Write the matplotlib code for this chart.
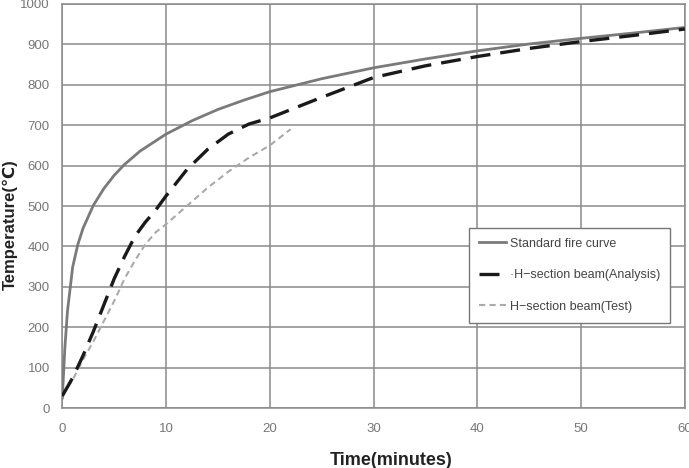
import matplotlib
matplotlib.use("Agg")
import matplotlib.pyplot as plt

plt.rcParams['font.family'] = ['Liberation Sans', 'DejaVu Sans']

std_t = [0, 0.25, 0.5, 1, 1.5, 2, 3, 4, 5, 6, 7.5, 10, 12.5, 15, 17.5, 20, 25, 30, 35, 40, 45, 50, 55, 60]
std_T = [25, 150, 240, 349, 405, 445, 502, 543, 576, 603, 636, 678, 711, 739, 762, 783, 815, 842, 864, 884, 901, 915, 928, 942]

ana_t = [0, 1, 2, 3, 4, 5, 6, 7, 8, 9, 10, 12, 14, 16, 18, 20, 25, 30, 35, 40, 45, 50, 55, 60]
ana_T = [30, 75, 130, 190, 255, 320, 375, 425, 460, 490, 525, 590, 640, 678, 703, 718, 769, 818, 847, 870, 890, 907, 922, 938]

test_t = [0, 1, 2, 3, 4, 5, 6, 7, 8, 9, 10, 12, 14, 16, 18, 20, 22]
test_T = [30, 70, 120, 165, 215, 265, 320, 365, 405, 435, 455, 500, 545, 585, 620, 650, 690]

x_ticks = [0, 10, 20, 30, 40, 50, 60]
y_ticks = [0, 100, 200, 300, 400, 500, 600, 700, 800, 900, 1000]

fig = plt.figure(figsize=(6.89, 4.68), dpi=100)
ax = fig.add_axes([0.0904, 0.128, 0.9036, 0.8635])

ax.plot(std_t, std_T, color='#7a7a7a', lw=2.0, label='Standard fire curve', zorder=3)
ax.plot(ana_t, ana_T, color='#1a1a1a', lw=2.4, dashes=(6, 3), label='\u00b7H\u2212section beam(Analysis)', zorder=4)
ax.plot(test_t, test_T, color='#aaaaaa', lw=1.5, dashes=(3, 2), label='H\u2212section beam(Test)', zorder=3)

ax.set_xlim(0, 60)
ax.set_ylim(0, 1000)
ax.set_xticks(x_ticks)
ax.set_yticks(y_ticks)
ax.grid(True, color='#8a8a8a', lw=1.1)
ax.set_axisbelow(True)
for s in ax.spines.values():
    s.set_color('#8a8a8a')
    s.set_linewidth(1.1)
ax.tick_params(length=0, colors='#777777', labelsize=9.5)
ax.tick_params(axis='y', pad=9)
ax.tick_params(axis='x', pad=11)

ax.set_xlabel('Time(minutes)', fontsize=13, fontweight='bold', color='#222222')
ax.xaxis.set_label_coords(0.528, -0.108)
ax.set_ylabel('Temperature(\u2103)', fontsize=12, fontweight='bold', color='#222222',
              fontfamily=['Liberation Sans', 'DejaVu Sans'])
ax.yaxis.set_label_coords(-0.0715, 0.455)

leg = ax.legend(loc='upper left', bbox_to_anchor=(0.653, 0.446), fontsize=9, frameon=True,
                fancybox=False, edgecolor='#777777', framealpha=1, handlelength=2.2,
                handletextpad=0.3, labelspacing=1.55, borderpad=0.8, borderaxespad=0)
leg.get_frame().set_linewidth(1.0)
for t in leg.get_texts():
    t.set_color('#444444')

fig.savefig('out.png', dpi=100)
